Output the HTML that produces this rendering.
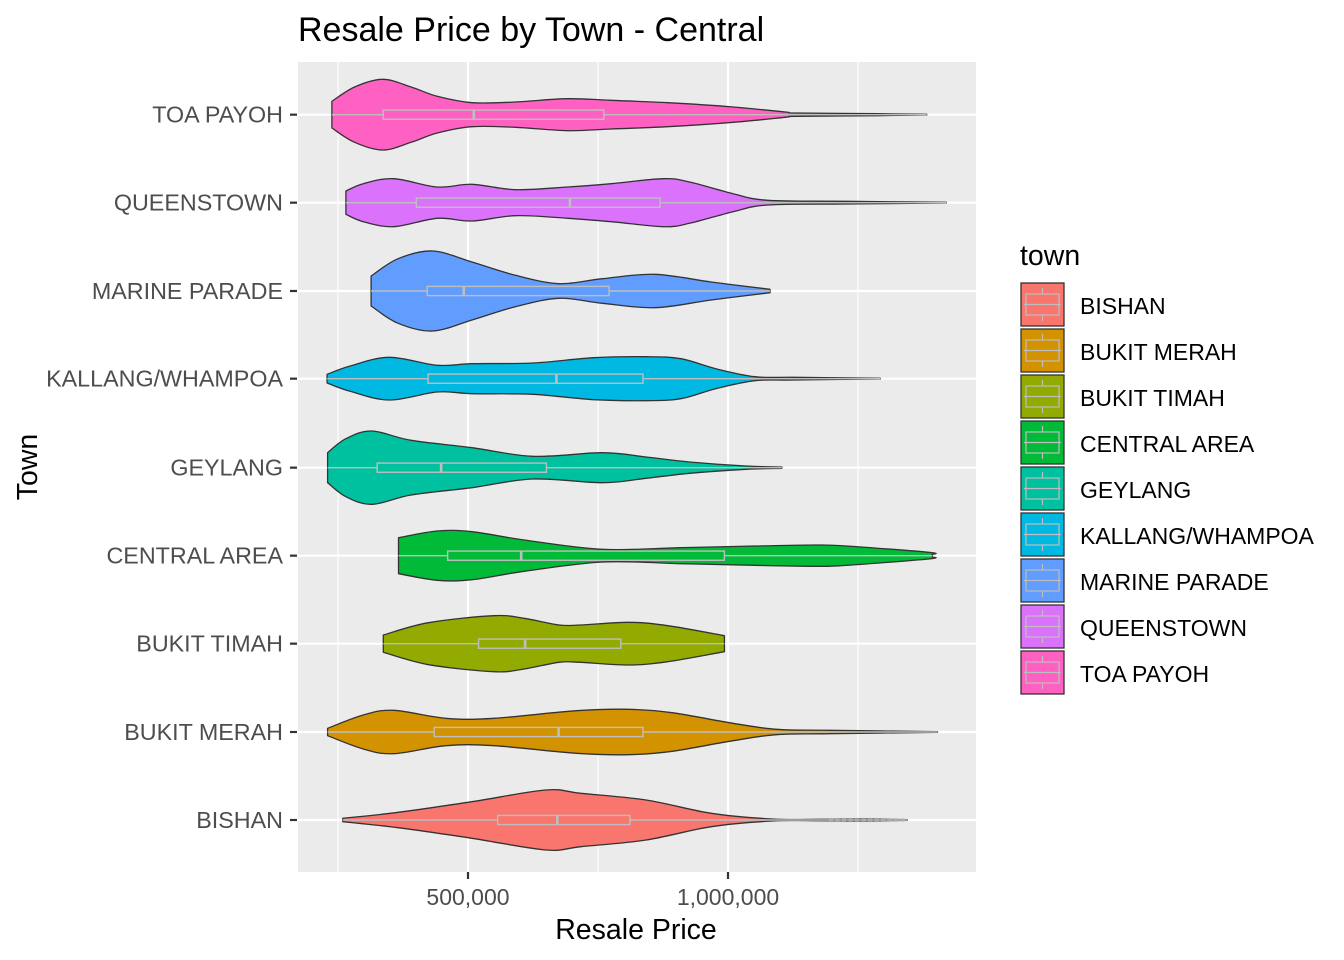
<!DOCTYPE html>
<html><head><meta charset="utf-8"><style>
body{margin:0;background:#fff;}
svg{display:block;font-family:"Liberation Sans",Arial,sans-serif;}
</style></head><body>
<svg id="s" width="1344" height="960" xmlns="http://www.w3.org/2000/svg">
<rect width="1344" height="960" fill="#fff"/>
<rect x="298" y="62" width="678" height="810" fill="#EBEBEB"/>
<g stroke="#fff" stroke-width="1.1">
<line x1="338" y1="62" x2="338" y2="872"/><line x1="598" y1="62" x2="598" y2="872"/><line x1="858" y1="62" x2="858" y2="872"/>
</g>
<g stroke="#fff" stroke-width="2.2">
<line x1="468" y1="62" x2="468" y2="872"/><line x1="728" y1="62" x2="728" y2="872"/>
</g>
<g id="hg" stroke="#fff" stroke-width="2.2"></g>
<g id="v"></g>
<g stroke="#333" stroke-width="2.2">
<line x1="468" y1="872" x2="468" y2="879"/><line x1="728" y1="872" x2="728" y2="879"/>
</g>
<g id="yl" font-size="23.3" fill="#4D4D4D" text-anchor="end"></g>
<g font-size="23" fill="#4D4D4D" text-anchor="middle">
<text x="468" y="905">500,000</text><text x="728" y="905">1,000,000</text>
</g>
<text x="636" y="939" font-size="28.5" text-anchor="middle" fill="#000">Resale Price</text>
<text transform="translate(37,467) rotate(-90)" font-size="28.5" text-anchor="middle" fill="#000">Town</text>
<text x="298" y="41" font-size="34" fill="#000">Resale Price by Town - Central</text>
<text x="1020" y="265" font-size="28.5" fill="#000">town</text>
<g id="lg"></g>
</svg>
<script>
var NS="http://www.w3.org/2000/svg";var SX=2.2985;
function el(t,a,p){var e=document.createElementNS(NS,t);for(var k in a)e.setAttribute(k,a[k]);p.appendChild(e);return e;}
function X(z){return 298+z/SX;}
function smooth(P){var s="";for(var i=0;i<P.length-1;i++){var p0=P[Math.max(i-1,0)],p1=P[i],p2=P[i+1],p3=P[Math.min(i+2,P.length-1)];
 var c1=[p1[0]+(p2[0]-p0[0])/6,p1[1]+(p2[1]-p0[1])/6],c2=[p2[0]-(p3[0]-p1[0])/6,p2[1]-(p3[1]-p1[1])/6];
 s+=" C"+c1[0].toFixed(1)+","+c1[1].toFixed(1)+" "+c2[0].toFixed(1)+","+c2[1].toFixed(1)+" "+p2[0].toFixed(1)+","+p2[1].toFixed(1);}return s;}
var data=[
["TOA PAYOH","#FF61C3",62+158/3,[[78,40],[130,83],[195,106],[260,83],[320,55],[400,36],[500,38],[620,48],[720,43],[850,36],[1000,23],[1120,8],[1145,5],[1330,3],[1445,1]],196,703,404],
["QUEENSTOWN","#DB72FB",62+422/3,[[110,35],[150,57],[220,72],[320,47],[400,55],[500,39],[620,47],[720,57],[840,72],[900,62],[1000,27],[1080,7],[1260,4],[1490,1]],272,832,625],
["MARINE PARADE","#619CFF",62+687/3,[[168,45],[230,97],[310,120],[400,87],[500,47],[600,22],[700,37],[820,50],[950,27],[1085,5]],297,715,381],
["KALLANG/WHAMPOA","#00B9E3",62+950/3,[[67,13],[120,38],[210,64],[320,40],[400,45],[540,47],[680,63],[800,66],[880,60],[960,30],[1050,6],[1140,4],[1338,1]],299,793,594],
["GEYLANG","#00C19F",62+1217/3,[[68,45],[110,87],[170,110],[260,82],[400,60],[540,34],[700,45],[800,32],[900,17],[1030,5],[1112,2]],182,571,329],
["CENTRAL AREA","#00BA38",470+257/3,[[231,54],[320,74],[400,72],[520,47],[700,19],[880,24],[1050,29],[1190,32],[1260,29],[1450,10],[1458,4]],344,980,513],
["BUKIT TIMAH","#93AA00",470+521/3,[[196,26],[300,63],[450,84],[520,76],[600,56],[650,56],[760,64],[850,54],[980,24]],415,742,522],
["BUKIT MERAH","#D39200",470+786/3,[[68,11],[150,51],[220,65],[340,41],[450,41],[640,64],[760,68],[860,58],[1000,26],[1100,8],[1220,5],[1470,1]],313,793,599],
["BISHAN","#F8766D",470+1050/3,[[103,5],[230,23],[400,55],[570,90],[650,80],[800,60],[950,20],[1090,3],[1200,2],[1300,3],[1400,1]],459,763,596]
];
var v=document.getElementById("v"),yl=document.getElementById("yl"),hg=document.getElementById("hg"),lg=document.getElementById("lg");
data.forEach(function(d){
 var cy=d[2],pts=d[3];
 el("line",{x1:298,x2:976,y1:cy,y2:cy},hg);
 var top=pts.map(function(p){return [X(p[0]),cy-p[1]/3];});
 var bot=pts.slice().reverse().map(function(p){return [X(p[0]),cy+p[1]/3];});
 var dstr="M"+top[0][0].toFixed(1)+","+top[0][1].toFixed(1)+smooth(top)+" L"+bot[0][0].toFixed(1)+","+bot[0][1].toFixed(1)+smooth(bot)+" Z";
 el("path",{d:dstr,fill:d[1],stroke:"#333","stroke-width":1.3,"stroke-linejoin":"round"},v);
 var x0=X(pts[0][0]),x1=X(pts[pts.length-1][0]);
 var b0=X(d[4]),b1=X(d[5]),m=X(d[6]);
 el("line",{x1:x0,x2:b0,y1:cy,y2:cy,stroke:"#BEBEBE","stroke-width":1.4},v);
 el("line",{x1:b1,x2:x1,y1:cy,y2:cy,stroke:"#BEBEBE","stroke-width":1.4},v);
 el("rect",{x:b0,y:cy-4.6,width:b1-b0,height:9.2,fill:"none",stroke:"#BEBEBE","stroke-width":1.4},v);
 el("line",{x1:m,x2:m,y1:cy-4.6,y2:cy+4.6,stroke:"#BEBEBE","stroke-width":2.6},v);
 el("line",{x1:290,x2:297,y1:cy,y2:cy,stroke:"#333","stroke-width":2.2},v);
 var t=el("text",{x:283,y:cy+8},yl);t.textContent=d[0];
});
var b=data[8];var cy=b[2];
for(var i=0;i<12;i++){el("circle",{cx:X(1225+i*15),cy:cy,r:2.4,fill:"#BEBEBE","fill-opacity":0.5},v);}
var lo=data.slice().reverse();
lo.forEach(function(d,i){
 var y=283+i*46;
 el("rect",{x:1021,y:y,width:43,height:43,fill:d[1],stroke:"#333","stroke-width":1.3},lg);
 el("line",{x1:1024,x2:1061,y1:y+21.5,y2:y+21.5,stroke:"#BEBEBE","stroke-width":1.2},lg);
 el("rect",{x:1026,y:y+11,width:33,height:21,fill:"none",stroke:"#BEBEBE","stroke-width":1.2},lg);
 el("line",{x1:1042.5,x2:1042.5,y1:y+5,y2:y+11,stroke:"#BEBEBE","stroke-width":1.2},lg);
 el("line",{x1:1042.5,x2:1042.5,y1:y+32,y2:y+38,stroke:"#BEBEBE","stroke-width":1.2},lg);
 var t=el("text",{x:1080,y:y+31,"font-size":23,fill:"#000"},lg);t.textContent=d[0];
});
</script>
</body></html>
